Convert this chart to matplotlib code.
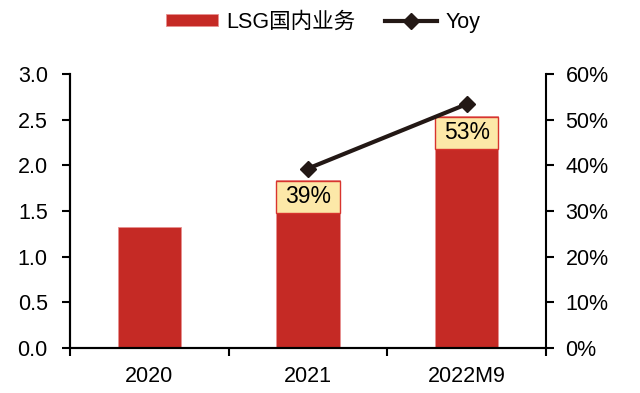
import matplotlib
matplotlib.use("Agg")
import matplotlib.pyplot as plt
from matplotlib.ticker import FuncFormatter
from matplotlib.patches import Rectangle

plt.rcParams['font.family'] = ['Liberation Sans', 'Noto Sans CJK SC', 'DejaVu Sans']

categories = ['2020', '2021', '2022M9']
revenue = [1.32, 1.84, 2.54]
yoy_x = ['2021', '2022M9']
yoy = [39.3, 53.4]
yoy_labels = ['39%', '53%']

FS = 15.5
fig = plt.figure(figsize=(6.4, 3.93), dpi=100)
ax = fig.add_axes([70 / 640, 45 / 393, 476 / 640, 274 / 393])
ax2 = ax.twinx()

x = list(range(len(categories)))
bar_color = '#C52A25'
bw = 0.4
bars = ax.bar(x, revenue, width=bw, color=bar_color, edgecolor='#E89090', linewidth=0.6,
              label='LSG国内业务', zorder=2)

yx = [categories.index(c) for c in yoy_x]
ax2.plot(yx, yoy, color='#231815', linewidth=3, marker='D', markersize=8, label='Yoy', zorder=3)

box_h = 0.35
for xi, c, lab in zip(yx, yoy_x, yoy_labels):
    v = revenue[categories.index(c)]
    ax.add_patch(Rectangle((xi - bw / 2, v - box_h - 0.01), bw, box_h, facecolor='#FCE8A8',
                           edgecolor='#D8342E', linewidth=1.0, zorder=4))
    ax.text(xi, v - 0.01 - box_h / 2, lab, ha='center', va='center', fontsize=16.5, zorder=5)

ax.set_xlim(-0.5, 2.5)
ax.set_ylim(0, 3.0)
ax.set_yticks([0, 0.5, 1.0, 1.5, 2.0, 2.5, 3.0])
ax.yaxis.set_major_formatter(FuncFormatter(lambda v, p: f'{v:.1f}'))
ax2.set_ylim(0, 60)
ax2.set_yticks(range(0, 61, 10))
ax2.yaxis.set_major_formatter(FuncFormatter(lambda v, p: f'{v:.0f}%'))

ax.set_xticks([-0.5, 0.5, 1.5, 2.5])
ax.set_xticklabels([])
ax.set_xticks(x, minor=True)
ax.set_xticklabels(categories, minor=True)
ax.tick_params(axis='x', which='major', length=6, width=1.5, direction='out')
ax.tick_params(axis='x', which='minor', length=0, labelsize=FS, pad=13)
ax.tick_params(axis='y', length=6, width=1.5, direction='out', labelsize=FS, pad=10)
ax2.tick_params(axis='y', length=6, width=1.5, direction='out', labelsize=FS, pad=8)

for a in (ax, ax2):
    a.spines['top'].set_visible(False)
    for s in ('left', 'right', 'bottom'):
        a.spines[s].set_linewidth(1.5)
ax.spines['right'].set_visible(False)

h1, l1 = ax.get_legend_handles_labels()
h2, l2 = ax2.get_legend_handles_labels()
fig.legend(h1 + h2, l1 + l2, loc='center', bbox_to_anchor=(0.505, 0.944), ncol=2, frameon=False,
           fontsize=FS, handlelength=2.4, handleheight=0.5, columnspacing=1.4, handletextpad=0.4)

fig.savefig('out.png', dpi=100)
